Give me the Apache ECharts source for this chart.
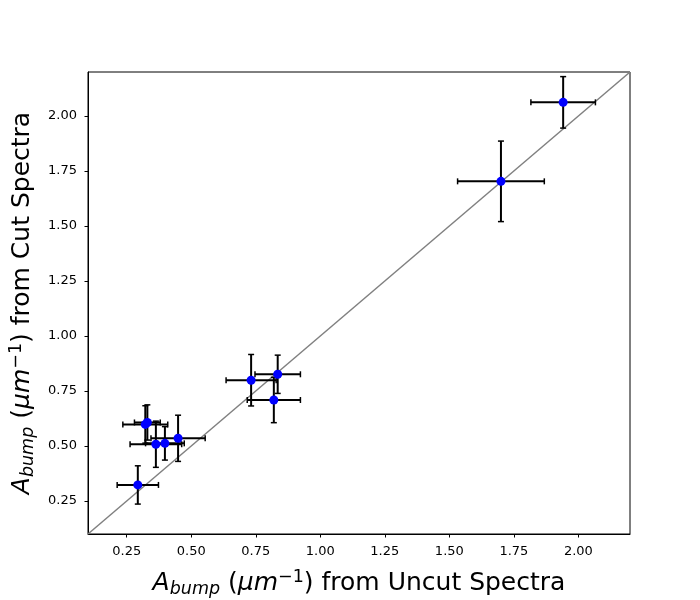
<!DOCTYPE html>
<html>
<head>
<meta charset="utf-8">
<script src="https://cdn.jsdelivr.net/npm/echarts@6/dist/echarts.min.js"></script>
<style>html,body{margin:0;padding:0;background:#fff}#c{width:700px;height:600px}</style>
</head>
<body>
<div id="c"></div>
<script>
var xVals = [0.293, 0.322, 0.330, 0.363, 0.398, 0.449, 0.732, 0.835, 0.820, 1.700, 1.941];
var yVals = [0.323, 0.598, 0.607, 0.508, 0.512, 0.535, 0.799, 0.826, 0.709, 1.703, 2.062];
var xErr  = [0.080, 0.087, 0.050, 0.100, 0.075, 0.105, 0.097, 0.088, 0.103, 0.168, 0.125];
var yErr  = [0.087, 0.085, 0.080, 0.105, 0.076, 0.105, 0.117, 0.087, 0.103, 0.183, 0.117];
var xTicks = [0.25, 0.50, 0.75, 1.00, 1.25, 1.50, 1.75, 2.00];
var yTicks = [0.25, 0.50, 0.75, 1.00, 1.25, 1.50, 1.75, 2.00];
var axisMin = 0.1, axisMax = 2.2;

var pts = xVals.map(function(x, i){ return [x, yVals[i], xErr[i], yErr[i]]; });
var FONT = 'DejaVu Sans';
var rich = {
  i:   {fontFamily: FONT, fontSize: 25, fontStyle: 'italic', color: '#000', lineHeight: 30},
  n:   {fontFamily: FONT, fontSize: 25, color: '#000', lineHeight: 30},
  sub: {fontFamily: FONT, fontSize: 17.5, fontStyle: 'italic', color: '#000', lineHeight: 17, verticalAlign: 'bottom'},
  sup: {fontFamily: FONT, fontSize: 17.5, color: '#000', lineHeight: 17, verticalAlign: 'top'}
};
function axisName(tail){
  return '{i|A}{sub|bump}{n| (}{i|μm}{sup|−1}{n|) ' + tail + '}';
}
var chart = echarts.init(document.getElementById('c'), null, {renderer: 'canvas'});
chart.setOption({
  animation: false,
  backgroundColor: '#fff',
  grid: {left: 88, right: 70, top: 72, bottom: 66, containLabel: false, outerBoundsMode: 'none',
    show: true, borderColor: '#000', borderWidth: 1, backgroundColor: 'transparent'},
  xAxis: {
    type: 'value', min: axisMin, max: axisMax,
    name: axisName('from Uncut Spectra'), nameLocation: 'middle', nameGap: 34,
    nameTextStyle: {rich: rich},
    axisLine: {show: true, onZero: false, lineStyle: {color: '#000', width: 1}},
    axisTick: {show: true, inside: false, length: 3.5, lineStyle: {color: '#000', width: 1}, customValues: xTicks},
    axisLabel: {show: true, margin: 11, fontFamily: FONT, fontSize: 13, color: '#000', customValues: xTicks,
      formatter: function(v){ return v.toFixed(2); }},
    splitLine: {show: false}
  },
  yAxis: {
    type: 'value', min: axisMin, max: axisMax,
    name: axisName('from Cut Spectra'), nameLocation: 'middle', nameGap: 50, nameRotate: 90,
    nameTextStyle: {rich: rich},
    axisLine: {show: true, onZero: false, lineStyle: {color: '#000', width: 1}},
    axisTick: {show: true, inside: false, length: 3.5, lineStyle: {color: '#000', width: 1}, customValues: yTicks},
    axisLabel: {show: true, margin: 11, fontFamily: FONT, fontSize: 13, color: '#000', customValues: yTicks,
      formatter: function(v){ return v.toFixed(2); }},
    splitLine: {show: false}
  },
  series: [
    {
      type: 'line', data: [[axisMin, axisMin], [axisMax, axisMax]], showSymbol: false, silent: true,
      lineStyle: {color: '#808080', width: 1.5}, z: 1
    },
    {
      type: 'custom', data: pts, z: 2, silent: true,
      renderItem: function(params, api){
        var x = api.value(0), y = api.value(1), ex = api.value(2), ey = api.value(3);
        var l = api.coord([x - ex, y]), r = api.coord([x + ex, y]);
        var t = api.coord([x, y + ey]), b = api.coord([x, y - ey]);
        var cap = 3;
        var st = {stroke: '#000', lineWidth: 2};
        return {type: 'group', children: [
          {type: 'line', shape: {x1: l[0], y1: l[1], x2: r[0], y2: r[1]}, style: st},
          {type: 'line', shape: {x1: l[0], y1: l[1] - cap, x2: l[0], y2: l[1] + cap}, style: {stroke: '#000', lineWidth: 1.5}},
          {type: 'line', shape: {x1: r[0], y1: r[1] - cap, x2: r[0], y2: r[1] + cap}, style: {stroke: '#000', lineWidth: 1.5}},
          {type: 'line', shape: {x1: t[0], y1: t[1], x2: b[0], y2: b[1]}, style: st},
          {type: 'line', shape: {x1: t[0] - cap, y1: t[1], x2: t[0] + cap, y2: t[1]}, style: {stroke: '#000', lineWidth: 1.5}},
          {type: 'line', shape: {x1: b[0] - cap, y1: b[1], x2: b[0] + cap, y2: b[1]}, style: {stroke: '#000', lineWidth: 1.5}}
        ]};
      }
    },
    {
      type: 'scatter', data: pts.map(function(p){ return [p[0], p[1]]; }), z: 3, silent: true,
      symbol: 'circle', symbolSize: 9, itemStyle: {color: '#0000ff', opacity: 1}
    }
  ]
});
</script>
</body>
</html>
